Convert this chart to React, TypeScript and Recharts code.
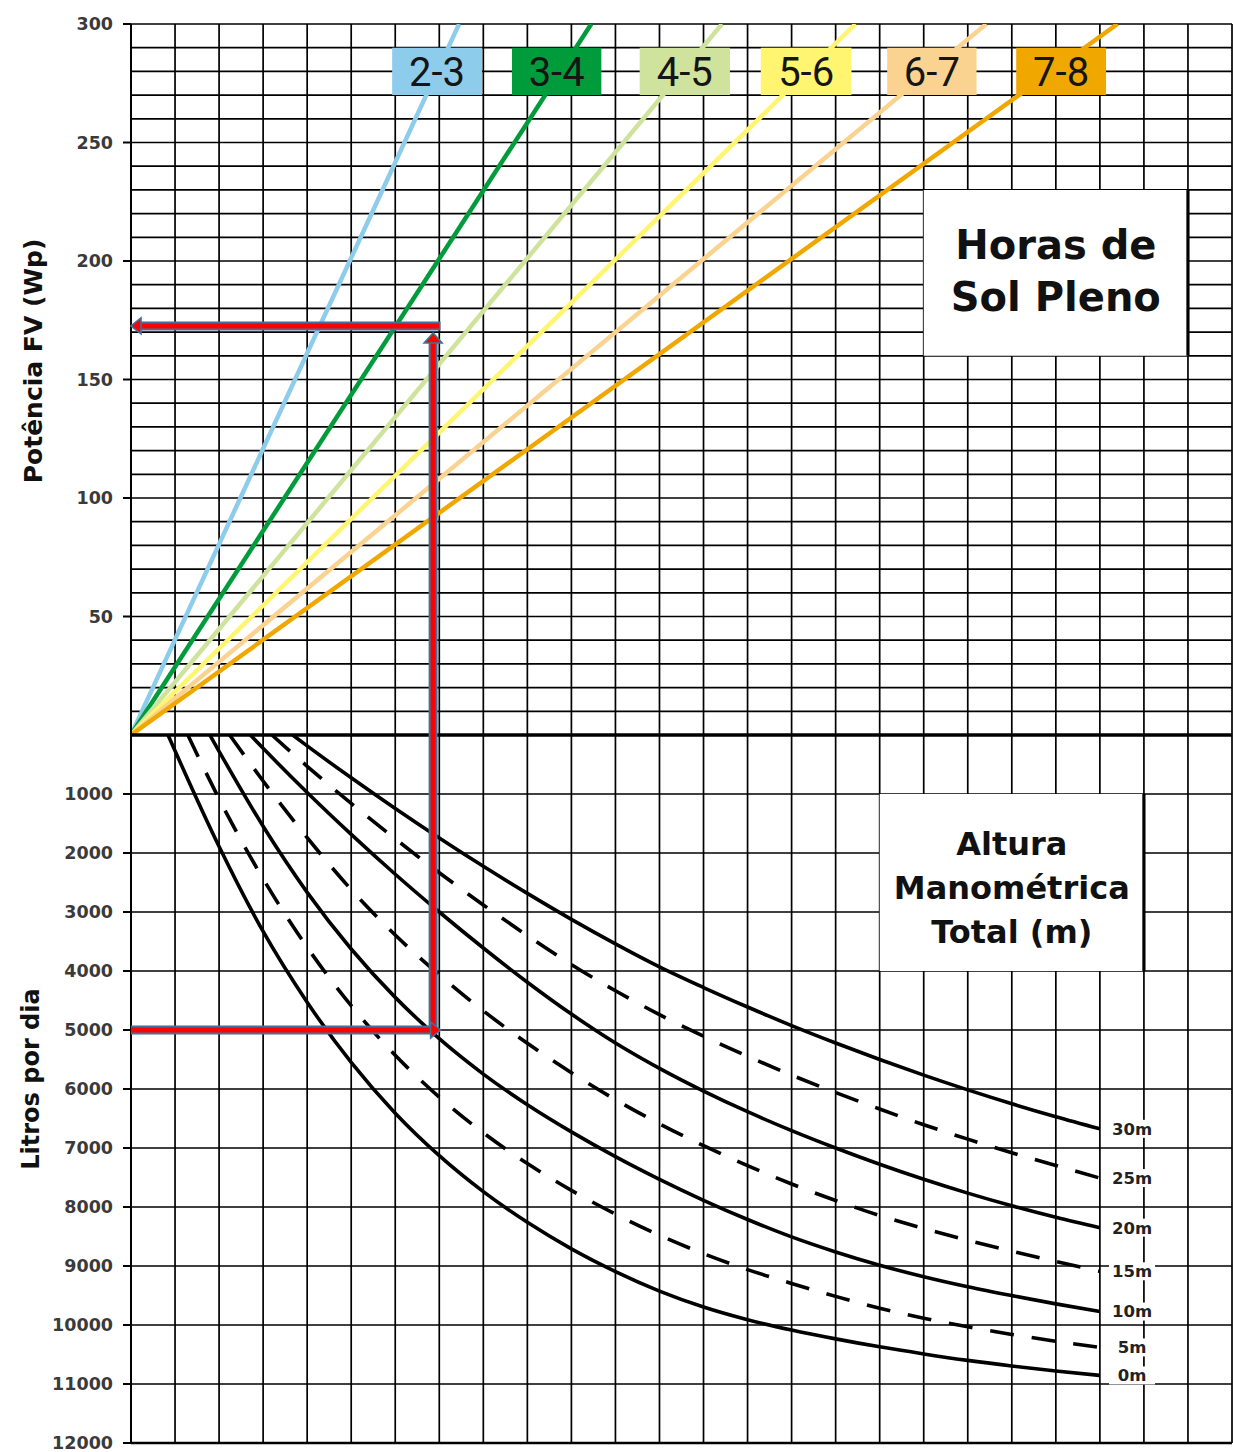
import React from 'react';
import {
  ComposedChart,
  Line,
  XAxis,
  YAxis,
  CartesianGrid,
  ReferenceArea,
  ReferenceLine,
  ReferenceDot,
} from 'recharts';

const FONT = '"DejaVu Sans", Verdana, sans-serif';
const NARROW = '"Liberation Sans Narrow", "Arial Narrow", Roboto, sans-serif';

// ---------- axes / grid ----------
const COL_TICKS = [0, 1, 2, 3, 4, 5, 6, 7, 8, 9, 10, 11, 12, 13, 14, 15, 16, 17, 18, 19, 20, 21, 22, 23, 24, 25];
const WP_GRID = [0, 10, 20, 30, 40, 50, 60, 70, 80, 90, 100, 110, 120, 130, 140, 150, 160, 170, 180, 190, 200, 210, 220, 230, 240, 250, 260, 270, 280, 290, 300];
const WP_LABELS = [50, 100, 150, 200, 250, 300];
const L_GRID = [0, 1000, 2000, 3000, 4000, 5000, 6000, 7000, 8000, 9000, 10000, 11000, 12000];
const L_LABELS = [1000, 2000, 3000, 4000, 5000, 6000, 7000, 8000, 9000, 10000, 11000, 12000];

// ---------- sun hours lines (upper panel) ----------
const SUN_BANDS = ['2-3', '3-4', '4-5', '5-6', '6-7', '7-8'];
const SUN_COLORS = ['#8DCDEB', '#009B3A', '#CFE39C', '#FFF570', '#F9D38F', '#F0A800'];
const SUN_X_AT_300 = [7.45, 10.45, 13.42, 16.45, 19.42, 22.4];
const SUN_BOX_LEFT = [5.93, 8.65, 11.55, 14.3, 17.17, 20.1];
const SUN_BOX_RIGHT = [7.97, 10.68, 13.6, 16.36, 19.2, 22.14];
const SUN_BOX_LOW = 270;
const SUN_BOX_HIGH = 290;

// ---------- head curves (lower panel), [column, litres/day] ----------
const CURVE_0M = [[0.84, 0], [2, 1890], [3, 3330], [4, 4530], [5, 5550], [6, 6410], [7, 7130], [8, 7740], [9, 8260], [10, 8710], [11, 9095], [12, 9425], [13, 9695], [14, 9910], [15, 10085], [16, 10235], [17, 10370], [18, 10490], [19, 10600], [20, 10695], [21, 10780], [22, 10855]];
const CURVE_5M = [[1.29, 0], [2, 1083], [3, 2438], [4, 3598], [5, 4588], [6, 5428], [7, 6138], [8, 6743], [9, 7263], [10, 7718], [11, 8121], [12, 8478], [13, 8791], [14, 9061], [15, 9296], [16, 9515], [17, 9715], [18, 9885], [19, 10030], [20, 10160], [21, 10275], [22, 10380]];
const CURVE_10M = [[1.79, 0], [2, 277], [3, 1547], [4, 2667], [5, 3627], [6, 4447], [7, 5147], [8, 5747], [9, 6267], [10, 6727], [11, 7147], [12, 7532], [13, 7887], [14, 8212], [15, 8507], [16, 8762], [17, 8987], [18, 9182], [19, 9352], [20, 9502], [21, 9642], [22, 9772]];
const CURVE_15M = [[2.24, 0], [3, 780], [4, 1740], [5, 2620], [6, 3390], [7, 4065], [8, 4675], [9, 5225], [10, 5725], [11, 6180], [12, 6590], [13, 6960], [14, 7298], [15, 7610], [16, 7890], [17, 8145], [18, 8365], [19, 8565], [20, 8750], [21, 8925], [22, 9090]];
const CURVE_20M = [[2.71, 0], [3, 225], [4, 975], [5, 1685], [6, 2360], [7, 3000], [8, 3610], [9, 4190], [10, 4730], [11, 5220], [12, 5650], [13, 6035], [14, 6385], [15, 6705], [16, 7000], [17, 7275], [18, 7530], [19, 7765], [20, 7980], [21, 8175], [22, 8350]];
const CURVE_25M = [[3.2, 0], [4, 530], [5, 1160], [6, 1760], [7, 2335], [8, 2880], [9, 3400], [10, 3890], [11, 4335], [12, 4740], [13, 5105], [14, 5445], [15, 5765], [16, 6060], [17, 6340], [18, 6605], [19, 6850], [20, 7080], [21, 7295], [22, 7510]];
const CURVE_30M = [[3.67, 0], [4, 185], [5, 725], [6, 1245], [7, 1745], [8, 2225], [9, 2685], [10, 3125], [11, 3540], [12, 3930], [13, 4280], [14, 4610], [15, 4925], [16, 5220], [17, 5500], [18, 5765], [19, 6015], [20, 6250], [21, 6470], [22, 6675]];

const HEAD_LABELS = ['0m', '5m', '10m', '15m', '20m', '25m', '30m'];
const HEAD_CURVES = [CURVE_0M, CURVE_5M, CURVE_10M, CURVE_15M, CURVE_20M, CURVE_25M, CURVE_30M];
const HEAD_DASHED = [false, true, false, true, false, true, false];
const HEAD_LABEL_COL = 22.73;

// ---------- example reading (red arrows) ----------
const EX_COL = 6.86;
const EX_LITRES = 5000;
const EX_WP = 172.6;
const EX_WP_TIP = 169.6;
const EX_H_END_COL = 7.03;

// ---------- text boxes ----------
const SUN_TITLE = ['Horas de', 'Sol Pleno'];
const SUN_TITLE_BOX = { x1: 18, x2: 24, y1: 160, y2: 230 };
const HEAD_TITLE = ['Altura', 'Manométrica', 'Total (m)'];
const HEAD_TITLE_BOX = { x1: 17, x2: 23, y1: 1000, y2: 4000 };

const RED = '#FF0000';
const EDGE = '#41719C';

const toPts = (arr: number[][]) => arr.map(([x, y]) => ({ x, y }));

function WpTick(props: any) {
  const { y, payload } = props;
  const v = payload ? payload.value : null;
  if (!WP_LABELS.includes(v)) return <g />;
  return (
    <g>
      <line x1={123} x2={131} y1={y} y2={y} stroke="#000" strokeWidth={2} />
      <text x={113} y={y} dy="0.36em" textAnchor="end" fontFamily={FONT} fontWeight="bold" fontSize={17.5} fill="#3a3a3a">
        {v}
      </text>
    </g>
  );
}

function LTick(props: any) {
  const { y, payload } = props;
  const v = payload ? payload.value : null;
  if (!L_LABELS.includes(v)) return <g />;
  return (
    <g>
      <line x1={123} x2={131} y1={y} y2={y} stroke="#000" strokeWidth={2} />
      <text x={113} y={y} dy="0.36em" textAnchor="end" fontFamily={FONT} fontWeight="bold" fontSize={17.5} fill="#3a3a3a">
        {v}
      </text>
    </g>
  );
}

const arrowLeft = (p: any) => (
  <polygon points={`${p.cx},${p.cy} ${p.cx + 10},${p.cy - 8} ${p.cx + 10},${p.cy + 8}`} fill={RED} stroke={EDGE} strokeWidth={1.6} />
);
const arrowUp = (p: any) => (
  <polygon points={`${p.cx},${p.cy} ${p.cx - 9},${p.cy + 10} ${p.cx + 9},${p.cy + 10}`} fill={RED} stroke={EDGE} strokeWidth={1.6} />
);
const arrowRight = (p: any) => (
  <polygon points={`${p.cx},${p.cy} ${p.cx - 10},${p.cy - 8} ${p.cx - 10},${p.cy + 8}`} fill={RED} stroke={EDGE} strokeWidth={1.6} />
);

const multiLine = (lines: string[], size: number, gap: number, shift: number) => (p: any) => {
  const n = lines.length;
  const top = p.cy + shift - ((n - 1) * gap) / 2;
  return (
    <text textAnchor="middle" fontFamily={FONT} fontWeight="bold" fontSize={size} fill="#111">
      {lines.map((t, i) => (
        <tspan key={i} x={p.cx} y={top + i * gap} dy="0.36em">
          {t}
        </tspan>
      ))}
    </text>
  );
};

const sunLabel = (text: string) => (p: any) => (
  <text x={p.cx} y={p.cy} dy="0.36em" textAnchor="middle" fontFamily={NARROW} fontSize={40} fill="#151515">
    {text}
  </text>
);

const headLabel = (text: string) => (p: any) => (
  <g>
    <rect x={p.cx - 23} y={p.cy - 9} width={46} height={18} fill="#fff" />
    <text x={p.cx} y={p.cy} dy="0.36em" textAnchor="middle" fontFamily={FONT} fontWeight="bold" fontSize={16.5} fill="#222">
      {text}
    </text>
  </g>
);

export default function App() {
  return (
    <div style={{ position: 'absolute', left: 0, top: 0, width: 1233, height: 1452, background: '#fff' }}>
      {/* ---------------- upper panel ---------------- */}
      <div style={{ position: 'absolute', left: 0, top: 0 }}>
        <ComposedChart width={1233} height={740} margin={{ top: 24, right: 1, bottom: 5, left: 0 }}>
          <CartesianGrid stroke="#000" strokeWidth={1.7} />
          <XAxis type="number" dataKey="x" domain={[0, 25]} ticks={COL_TICKS} hide allowDataOverflow />
          <YAxis
            type="number"
            domain={[0, 300]}
            ticks={WP_GRID}
            interval={0}
            width={131}
            tick={<WpTick />}
            tickLine={false}
            axisLine={{ stroke: '#000', strokeWidth: 2 }}
            allowDataOverflow
            label={{
              content: () => (
                <text x={33} y={361} dy="0.36em" transform="rotate(-90 33 361)" textAnchor="middle" fontFamily={FONT} fontWeight="bold" fontSize={25} fill="#111">
                  Potência FV (Wp)
                </text>
              ),
            }}
          />
          {SUN_BANDS.map((b, i) => (
            <Line
              key={b}
              data={[{ x: 0, y: 0 }, { x: SUN_X_AT_300[i], y: 300 }]}
              dataKey="y"
              type="linear"
              stroke={SUN_COLORS[i]}
              strokeWidth={4.5}
              dot={false}
              activeDot={false}
              isAnimationActive={false}
            />
          ))}
          <ReferenceLine y={0} stroke="#000" strokeWidth={3.5} zIndex={450} />
          <ReferenceArea {...SUN_TITLE_BOX} fill="#fff" fillOpacity={1} stroke="none" zIndex={450} />
          <ReferenceLine segment={[{ x: SUN_TITLE_BOX.x2, y: SUN_TITLE_BOX.y1 }, { x: SUN_TITLE_BOX.x2, y: SUN_TITLE_BOX.y2 }]} stroke="#000" strokeWidth={3.2} zIndex={460} />
          <ReferenceDot
            x={(SUN_TITLE_BOX.x1 + SUN_TITLE_BOX.x2) / 2}
            y={(SUN_TITLE_BOX.y1 + SUN_TITLE_BOX.y2) / 2}
            r={0}
            shape={multiLine(SUN_TITLE, 40, 52, -2)}
            zIndex={470}
          />
          {SUN_BANDS.map((b, i) => (
            <ReferenceArea
              key={'box' + b}
              x1={SUN_BOX_LEFT[i]}
              x2={SUN_BOX_RIGHT[i]}
              y1={SUN_BOX_LOW}
              y2={SUN_BOX_HIGH}
              fill={SUN_COLORS[i]}
              fillOpacity={1}
              stroke="none"
              zIndex={1500}
            />
          ))}
          {SUN_BANDS.map((b, i) => (
            <ReferenceDot
              key={'lbl' + b}
              x={(SUN_BOX_LEFT[i] + SUN_BOX_RIGHT[i]) / 2}
              y={(SUN_BOX_LOW + SUN_BOX_HIGH) / 2}
              r={0}
              shape={sunLabel(b)}
              zIndex={1510}
            />
          ))}
          {/* red arrows */}
          <ReferenceLine segment={[{ x: 0.2, y: EX_WP }, { x: EX_H_END_COL, y: EX_WP }]} stroke={EDGE} strokeWidth={9} zIndex={2500} />
          <ReferenceLine segment={[{ x: EX_COL, y: 0 }, { x: EX_COL, y: EX_WP_TIP - 4 }]} stroke={EDGE} strokeWidth={9} zIndex={2500} />
          <ReferenceLine segment={[{ x: 0.2, y: EX_WP }, { x: EX_H_END_COL - 0.03, y: EX_WP }]} stroke={RED} strokeWidth={5} zIndex={2510} />
          <ReferenceLine segment={[{ x: EX_COL, y: 0 }, { x: EX_COL, y: EX_WP_TIP - 4 }]} stroke={RED} strokeWidth={5} zIndex={2510} />
          <ReferenceDot x={0} y={EX_WP} r={0} shape={arrowLeft} zIndex={2520} />
          <ReferenceDot x={EX_COL} y={EX_WP_TIP} r={0} shape={arrowUp} zIndex={2520} />
        </ComposedChart>
      </div>

      {/* ---------------- lower panel ---------------- */}
      <div style={{ position: 'absolute', left: 0, top: 735 }}>
        <ComposedChart width={1233} height={717} margin={{ top: 0, right: 1, bottom: 9, left: 0 }}>
          <CartesianGrid stroke="#000" strokeWidth={1.7} />
          <XAxis type="number" dataKey="x" domain={[0, 25]} ticks={COL_TICKS} hide allowDataOverflow />
          <YAxis
            type="number"
            domain={[0, 12000]}
            reversed
            ticks={L_GRID}
            interval={0}
            width={131}
            tick={<LTick />}
            tickLine={false}
            axisLine={{ stroke: '#000', strokeWidth: 2 }}
            allowDataOverflow
            label={{
              content: () => (
                <text x={30} y={344} dy="0.36em" transform="rotate(-90 30 344)" textAnchor="middle" fontFamily={FONT} fontWeight="bold" fontSize={24} fill="#111">
                  Litros por dia
                </text>
              ),
            }}
          />
          <ReferenceLine y={12000} stroke="#000" strokeWidth={2.5} />
          <ReferenceArea {...HEAD_TITLE_BOX} fill="#fff" fillOpacity={1} stroke="none" zIndex={450} />
          <ReferenceLine segment={[{ x: HEAD_TITLE_BOX.x2, y: HEAD_TITLE_BOX.y1 }, { x: HEAD_TITLE_BOX.x2, y: HEAD_TITLE_BOX.y2 }]} stroke="#000" strokeWidth={3.2} zIndex={460} />
          <ReferenceDot
            x={(HEAD_TITLE_BOX.x1 + HEAD_TITLE_BOX.x2) / 2}
            y={(HEAD_TITLE_BOX.y1 + HEAD_TITLE_BOX.y2) / 2}
            r={0}
            shape={multiLine(HEAD_TITLE, 32, 44, 5)}
            zIndex={470}
          />
          {HEAD_CURVES.map((c, i) => (
            <Line
              key={HEAD_LABELS[i]}
              data={toPts(c)}
              dataKey="y"
              type="monotone"
              stroke="#000"
              strokeWidth={3.6}
              strokeDasharray={HEAD_DASHED[i] ? '24 18' : undefined}
              dot={false}
              activeDot={false}
              isAnimationActive={false}
            />
          ))}
          {HEAD_CURVES.map((c, i) => (
            <ReferenceDot
              key={'hl' + HEAD_LABELS[i]}
              x={HEAD_LABEL_COL}
              y={c[c.length - 1][1]}
              r={0}
              shape={headLabel(HEAD_LABELS[i])}
              zIndex={1500}
            />
          ))}
          {/* red arrows */}
          <ReferenceLine segment={[{ x: 0, y: EX_LITRES }, { x: EX_H_END_COL - 0.2, y: EX_LITRES }]} stroke={EDGE} strokeWidth={9} zIndex={2500} />
          <ReferenceLine segment={[{ x: EX_COL, y: 0 }, { x: EX_COL, y: EX_LITRES - 60 }]} stroke={EDGE} strokeWidth={9} zIndex={2500} />
          <ReferenceLine segment={[{ x: 0, y: EX_LITRES }, { x: EX_H_END_COL - 0.2, y: EX_LITRES }]} stroke={RED} strokeWidth={5} zIndex={2510} />
          <ReferenceLine segment={[{ x: EX_COL, y: 0 }, { x: EX_COL, y: EX_LITRES - 60 }]} stroke={RED} strokeWidth={5} zIndex={2510} />
          <ReferenceDot x={EX_H_END_COL} y={EX_LITRES} r={0} shape={arrowRight} zIndex={2520} />
        </ComposedChart>
      </div>
    </div>
  );
}
